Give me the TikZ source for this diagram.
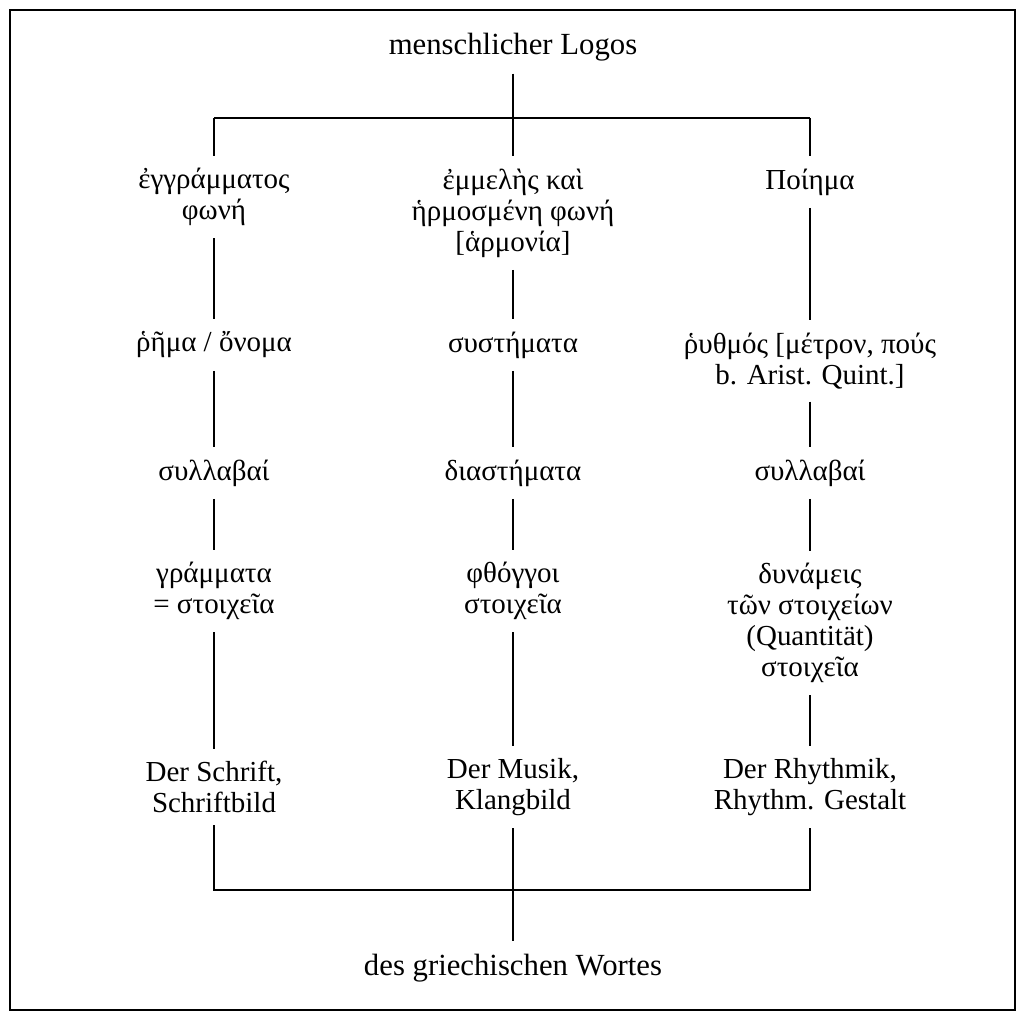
\documentclass[tikz,border=0pt]{standalone}
\usepackage{fontspec}
\setmainfont{Liberation Serif}
\begin{document}
\begin{tikzpicture}[x=0.02cm,y=-0.02cm,
  txt/.style={align=center,font=\fontsize{16.5}{17.6}\selectfont,inner sep=7pt},
  thick line/.style={line width=1.2pt},
  thin line/.style={line width=0.6pt}]
  \useasboundingbox (0,0) rectangle (1024,1017);
  \draw[thin line] (10,10) rectangle (1015,1010);
  % head and foot
  \node[txt,font=\fontsize{17.5}{20}\selectfont] (logos) at (513,47) {menschlicher Logos};
  \node[txt,font=\fontsize{17.5}{20}\selectfont] (wortes) at (513,968) {des griechischen Wortes};
  \coordinate (tl) at (214,118); \coordinate (tm) at (513,118); \coordinate (tr) at (810,118);
  \coordinate (bl) at (214,890); \coordinate (bm) at (513,890); \coordinate (br) at (810,890);
  % left column
  \node[txt] (l1) at (214,197) {ἐγγράμματος\\φωνή};
  \node[txt] (l2) at (214,345) {ῥῆμα / ὄνομα};
  \node[txt] (l3) at (214,473) {συλλαβαί};
  \node[txt] (l4) at (214,591) {γράμματα\\= στοιχεῖα};
  \node[txt] (l5) at (214,787) {Der Schrift,\\Schriftbild};
  % middle column
  \node[txt] (m1) at (513,213) {ἐμμελὴς καὶ\\ἡρμοσμένη φωνή\\{[}ἁρμονία{]}};
  \node[txt] (m2) at (513,345) {συστήματα};
  \node[txt] (m3) at (513,473) {διαστήματα};
  \node[txt] (m4) at (513,591) {φθόγγοι\\στοιχεῖα};
  \node[txt] (m5) at (513,787) {Der Musik,\\Klangbild};
  % right column
  \node[txt] (r1) at (810,182) {Ποίημα};
  \node[txt] (r2) at (810,361) {ῥυθμός [μέτρον, πούς\\b. Arist. Quint.{]}};
  \node[txt] (r3) at (810,473) {συλλαβαί};
  \node[txt] (r4) at (810,623) {δυνάμεις\\τῶν στοιχείων\\(Quantität)\\στοιχεῖα};
  \node[txt] (r5) at (810,787) {Der Rhythmik,\\Rhythm. Gestalt};
  % connectors
  \draw[thick line] (logos) -- (tm);
  \draw[thick line] (tl) -- (tr);
  \draw[thick line] (tm) -- (m1);
  \draw[thick line] (tl) -- (l1);
  \draw[thick line] (tr) -- (r1);
  \draw[thick line] (l1) -- (l2);
  \draw[thick line] (m1) -- (m2);
  \draw[thick line] (r1) -- (r2);
  \draw[thick line] (l2) -- (l3);
  \draw[thin line] (m2) -- (m3);
  \draw[thin line] (r2) -- (r3);
  \draw[thin line] (l3) -- (l4);
  \draw[thin line] (m3) -- (m4);
  \draw[thick line] (r3) -- (r4);
  \draw[thin line] (l4) -- (l5);
  \draw[thin line] (m4) -- (m5);
  \draw[thin line] (r4) -- (r5);
  \draw[thick line] (l5) -- (bl) -- (br) -- (r5);
  \draw[thin line] (m5) -- (wortes);
\end{tikzpicture}
\end{document}
